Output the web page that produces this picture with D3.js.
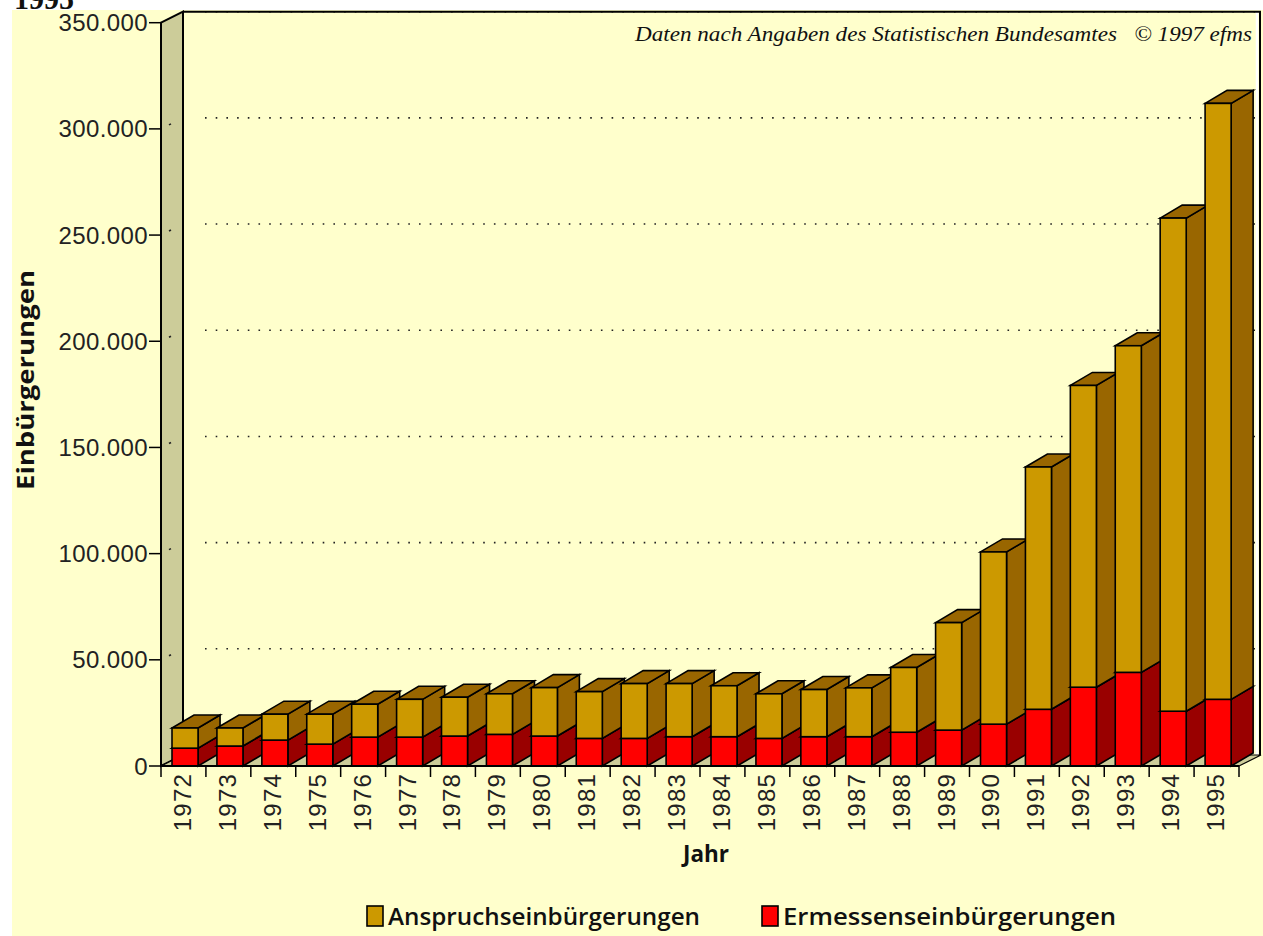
<!DOCTYPE html>
<html>
<head>
<meta charset="utf-8">
<script src="https://cdn.jsdelivr.net/npm/d3@7"></script>
<style>
    html, body { margin: 0; padding: 0; background: #fff; }
    svg { display: block; }
</style>
</head>
<body>
<svg id="chart" width="1263" height="936"></svg>
<script>
// values (persons per year)
const years = ['1972', '1973', '1974', '1975', '1976', '1977', '1978', '1979', '1980', '1981', '1982', '1983',
    '1984', '1985', '1986', '1987', '1988', '1989', '1990', '1991', '1992', '1993', '1994', '1995'];
const ermessen = [8400, 9400, 12200, 10300, 13600, 13600, 14100, 14900, 14100, 13000, 13000, 13800,
    13800, 13000, 13800, 13800, 15900, 16900, 19700, 26700, 37100, 44100, 25800, 31400];
const anspruch = [9500, 8500, 12200, 14100, 15500, 17800, 18300, 19100, 22800, 22000, 25800, 25000,
    24000, 21000, 22200, 23000, 30500, 50600, 81100, 114100, 142100, 153800, 232200, 280600];
const yTicks = [0, 50000, 100000, 150000, 200000, 250000, 300000, 350000];
const legendNames = ['Anspruchseinbürgerungen', 'Ermessenseinbürgerungen'];

const plot = {left: 161, right: 1239, top: 22.7, bottom: 766};
const wall = {dx: 22, dy: -11};
const depth = {dx: 22, dy: -13};

const colors = {
    bg: '#ffffcc',
    wall: '#cccc99',
    gold: '#cc9900',
    goldDark: '#996600',
    red: '#ff0000',
    redDark: '#990000'
};
const sansFont = "'Liberation Sans', Arial, sans-serif";
const titleFont = "'Open Sans', 'DejaVu Sans', sans-serif";

const svg = d3.select('#chart');

const x = d3.scaleBand().domain(years).range([plot.left, plot.right]).padding(0);
const y = d3.scaleLinear().domain([0, 350000]).range([plot.bottom, plot.top]);
const barOffset = x.bandwidth() * 0.245;
const barWidth = x.bandwidth() * 0.58;

const rows = years.map((yr, i) => ({year: yr, ermessen: ermessen[i], anspruch: anspruch[i]}));
const layers = d3.stack().keys(['ermessen', 'anspruch'])(rows);
const faceColors = {
    ermessen: [colors.red, colors.redDark],
    anspruch: [colors.gold, colors.goldDark]
};

// page background
svg.append('rect').attr('width', 1263).attr('height', 936).attr('fill', '#fff');
svg.append('rect').attr('x', 12).attr('y', 10).attr('width', 1251).attr('height', 926).attr('fill', colors.bg);

svg.append('text')
    .attr('x', 14)
    .attr('y', 9)
    .attr('font-family', "'Liberation Serif', serif")
    .attr('font-weight', 'bold')
    .attr('font-size', 30)
    .attr('fill', '#111')
    .text('1995');

// back wall with grid
const wallLeft = plot.left + wall.dx;
const wallRight = plot.right + wall.dx;
const wallTop = plot.top + wall.dy;
const wallBottom = plot.bottom + wall.dy;

svg.append('g')
    .selectAll('line')
    .data(yTicks.filter(t => t > 0))
    .join('line')
    .attr('x1', wallLeft + 22)
    .attr('x2', wallRight - 6)
    .attr('y1', d => y(d) + wall.dy)
    .attr('y2', d => y(d) + wall.dy)
    .attr('stroke', '#222')
    .attr('stroke-width', 1.6)
    .attr('stroke-dasharray', '1.6,9.1');

svg.append('line')
    .attr('x1', wallRight - 4).attr('x2', wallRight - 4)
    .attr('y1', wallTop).attr('y2', wallBottom)
    .attr('stroke', '#fff').attr('stroke-width', 2.5);
svg.append('polyline')
    .attr('points', [[wallLeft, wallTop], [wallRight - 1, wallTop], [wallRight - 1, wallBottom]].join(' '))
    .attr('fill', 'none')
    .attr('stroke', '#000')
    .attr('stroke-width', 2);

// left side wall
svg.append('polygon')
    .attr('points', [[plot.left, plot.top], [wallLeft, wallTop], [wallLeft, wallBottom], [plot.left, plot.bottom]].join(' '))
    .attr('fill', colors.wall)
    .attr('stroke', '#000')
    .attr('stroke-width', 2);

svg.append('g')
    .selectAll('line')
    .data(yTicks.filter(t => t > 0 && t < 350000))
    .join('line')
    .attr('x1', plot.left + 8).attr('x2', plot.left + 10)
    .attr('y1', d => y(d) + wall.dy * 8 / 22)
    .attr('y2', d => y(d) + wall.dy * 10 / 22)
    .attr('stroke', '#222')
    .attr('stroke-width', 1.6);

// floor
svg.append('polygon')
    .attr('points', [[plot.left, plot.bottom], [plot.right, plot.bottom], [wallRight, wallBottom], [wallLeft, wallBottom]].join(' '))
    .attr('fill', colors.wall)
    .attr('stroke', '#000')
    .attr('stroke-width', 1.2);

// y axis
svg.append('line')
    .attr('x1', plot.left).attr('x2', plot.left)
    .attr('y1', plot.top).attr('y2', plot.bottom)
    .attr('stroke', '#000').attr('stroke-width', 2);

const yAxis = svg.append('g');
yAxis.selectAll('line')
    .data(yTicks)
    .join('line')
    .attr('x1', plot.left - 12).attr('x2', plot.left)
    .attr('y1', d => y(d)).attr('y2', d => y(d))
    .attr('stroke', '#000').attr('stroke-width', 1.5);

const fmt = d3.formatLocale({decimal: ',', thousands: '.', grouping: [3], currency: ['', '']}).format(',d');
yAxis.selectAll('text')
    .data(yTicks)
    .join('text')
    .attr('x', plot.left - 13)
    .attr('y', d => y(d) + 8.5)
    .attr('text-anchor', 'end')
    .attr('font-family', sansFont)
    .attr('font-size', 24)
    .attr('letter-spacing', 0.4)
    .attr('fill', '#222')
    .text(d => fmt(d));

// bars, left to right so each one covers the side of the previous
function box(g, x0, w, yTop, yBot, front, side) {
    const style = sel => sel.attr('stroke', '#000').attr('stroke-width', 1.6).attr('stroke-linejoin', 'miter');
    g.append('polygon')
        .attr('points', [[x0 + w, yBot], [x0 + w + depth.dx, yBot + depth.dy], [x0 + w + depth.dx, yTop + depth.dy], [x0 + w, yTop]].join(' '))
        .attr('fill', side)
        .call(style);
    g.append('polygon')
        .attr('points', [[x0, yTop], [x0 + depth.dx, yTop + depth.dy], [x0 + w + depth.dx, yTop + depth.dy], [x0 + w, yTop]].join(' '))
        .attr('fill', side)
        .call(style);
    g.append('rect')
        .attr('x', x0).attr('y', yTop)
        .attr('width', w).attr('height', yBot - yTop)
        .attr('fill', front)
        .call(style);
}

svg.append('g')
    .selectAll('g')
    .data(rows)
    .join('g')
    .each(function (d, i) {
        const g = d3.select(this);
        layers.forEach(layer => {
            const seg = layer[i];
            const [front, side] = faceColors[layer.key];
            box(g, x(d.year) + barOffset, barWidth, y(seg[1]), y(seg[0]), front, side);
        });
    });

// x axis
svg.append('line')
    .attr('x1', plot.left).attr('x2', plot.right)
    .attr('y1', plot.bottom).attr('y2', plot.bottom)
    .attr('stroke', '#000').attr('stroke-width', 2);

svg.append('g')
    .selectAll('line')
    .data(years.map(yr => x(yr)).concat([plot.right]))
    .join('line')
    .attr('x1', d => d).attr('x2', d => d)
    .attr('y1', plot.bottom).attr('y2', plot.bottom + 11)
    .attr('stroke', '#000').attr('stroke-width', 1.5);

svg.append('g')
    .selectAll('text')
    .data(years)
    .join('text')
    .attr('transform', d => `translate(${x(d) + x.bandwidth() / 2 + 7.5},${plot.bottom + 7}) rotate(-90)`)
    .attr('text-anchor', 'end')
    .attr('font-family', sansFont)
    .attr('font-size', 24)
    .attr('letter-spacing', 1.2)
    .attr('fill', '#222')
    .text(d => d);

// axis titles
svg.append('text')
    .attr('transform', 'translate(34,380) rotate(-90)')
    .attr('text-anchor', 'middle')
    .attr('font-family', titleFont)
    .attr('font-weight', 'bold')
    .attr('font-size', 23)
    .attr('textLength', 220)
    .attr('lengthAdjust', 'spacingAndGlyphs')
    .attr('fill', '#111')
    .text('Einbürgerungen');

svg.append('text')
    .attr('x', 706)
    .attr('y', 862)
    .attr('text-anchor', 'middle')
    .attr('font-family', titleFont)
    .attr('font-weight', 'bold')
    .attr('font-size', 23)
    .attr('textLength', 46)
    .attr('lengthAdjust', 'spacingAndGlyphs')
    .attr('fill', '#111')
    .text('Jahr');

// source note
svg.append('text')
    .attr('x', 1252)
    .attr('y', 41)
    .attr('text-anchor', 'end')
    .attr('font-family', "'Liberation Serif', 'DejaVu Serif', serif")
    .attr('font-style', 'italic')
    .attr('font-size', 21)
    .attr('textLength', 617)
    .attr('lengthAdjust', 'spacingAndGlyphs')
    .attr('fill', '#111')
    .attr('xml:space', 'preserve')
    .text('Daten nach Angaben des Statistischen Bundesamtes   © 1997 efms');

// legend
const legend = svg.append('g')
    .selectAll('g')
    .data([
        {name: legendNames[0], color: colors.gold, x: 367, len: 312},
        {name: legendNames[1], color: colors.red, x: 762, len: 333}
    ])
    .join('g')
    .attr('transform', d => `translate(${d.x},906)`);

legend.append('rect')
    .attr('width', 16).attr('height', 20)
    .attr('fill', d => d.color)
    .attr('stroke', '#000').attr('stroke-width', 1.6);

legend.append('text')
    .attr('x', 21)
    .attr('y', 19)
    .attr('font-family', titleFont)
    .attr('font-weight', 600)
    .attr('font-size', 24)
    .attr('textLength', d => d.len)
    .attr('lengthAdjust', 'spacingAndGlyphs')
    .attr('fill', '#111')
    .text(d => d.name);
</script>
</body>
</html>
